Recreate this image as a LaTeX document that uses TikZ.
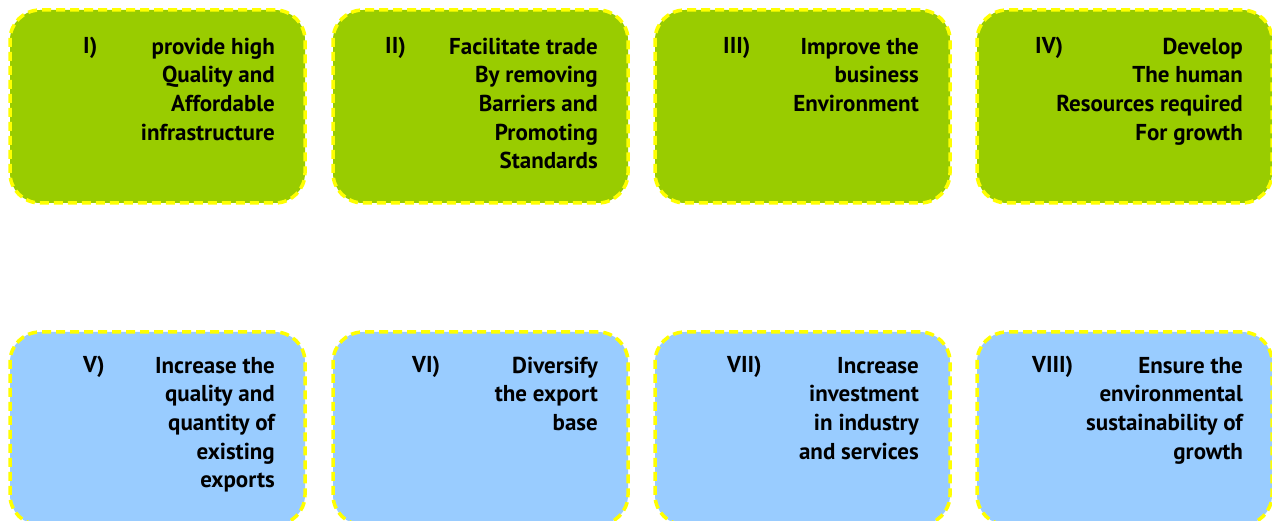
\documentclass[tikz,border=0pt]{standalone}
\usepackage{fontspec}
\setmainfont{PT Sans}
\definecolor{boxgreen}{HTML}{99CC00}
\definecolor{boxblue}{HTML}{99CCFF}
\definecolor{dashyellow}{HTML}{FFFF00}
\begin{document}
\begin{tikzpicture}[x=1pt,y=-1pt,
  box/.style={draw=dashyellow, line width=3.5pt, dash pattern=on 9pt off 5pt,
    rounded corners=30pt, minimum width=295pt, minimum height=193pt, inner sep=0pt},
  gbox/.style={box, fill=boxgreen},
  bbox/.style={box, fill=boxblue},
  txt/.style={anchor=north east, align=right, inner sep=0pt,
    font=\fontsize{23}{28.7}\selectfont\bfseries},
  num/.style={anchor=base west, inner sep=0pt,
    font=\fontsize{23}{28.7}\selectfont\bfseries}]
\useasboundingbox (0,0) rectangle (1272,521);
% top row
\node[gbox] (b1) at (157.5,106.5) {};
\node[gbox] (b2) at (480.5,106.5) {};
\node[gbox] (b3) at (802.5,106.5) {};
\node[gbox] (b4) at (1124.5,106.5) {};
% bottom row
\node[bbox] (b5) at (157.5,428.5) {};
\node[bbox] (b6) at (480.5,428.5) {};
\node[bbox] (b7) at (802.5,428.5) {};
\node[bbox] (b8) at (1124.5,428.5) {};
% labels
\node[num] (n1) at (83,54) {I)};
\node[num] (n2) at (385,54) {II)};
\node[num] (n3) at (723,54) {III)};
\node[num] (n4) at (1035,54) {IV)};
\node[num] (n5) at (83,373) {V)};
\node[num] (n6) at (412,373) {VI)};
\node[num] (n7) at (727,373) {VII)};
\node[num] (n8) at (1032,373) {VIII)};
% texts (first baseline = top + 20.09)
\node[txt] (t1) at (275,33.9) {\strut provide high\\Quality and\\Affordable\\infrastructure};
\node[txt] (t2) at (598,33.9) {\strut Facilitate trade\\By removing\\Barriers and\\Promoting\\Standards};
\node[txt] (t3) at (919,33.9) {\strut Improve the\\business\\Environment};
\node[txt] (t4) at (1243,33.9) {\strut Develop\\The human\\Resources required\\For growth};
\node[txt] (t5) at (275,352.9) {\strut Increase the\\quality and\\quantity of\\existing\\exports};
\node[txt] (t6) at (598,352.9) {\strut Diversify\\the export\\base};
\node[txt] (t7) at (919,352.9) {\strut Increase\\investment\\in industry\\and services};
\node[txt] (t8) at (1243,352.9) {\strut Ensure the\\environmental\\sustainability of\\growth};
\end{tikzpicture}
\end{document}
